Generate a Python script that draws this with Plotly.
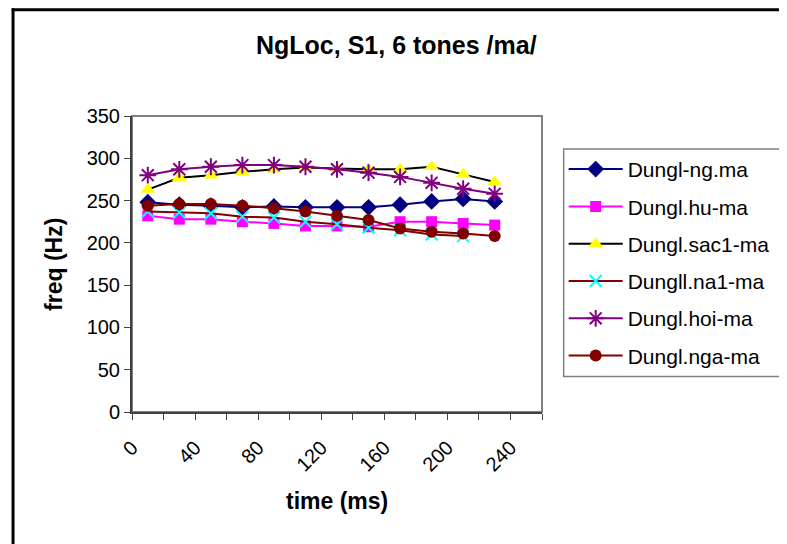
import plotly.graph_objects as go

time_ms = [10, 30, 50, 70, 90, 110, 130, 150, 170, 190, 210, 230]
ng_ma = [248, 245, 244, 242, 243, 242, 242, 242, 245, 249, 252, 249]
hu_ma = [232, 228, 228, 225, 223, 220, 220, 219, 225, 225, 223, 221]
sac1_ma = [263, 277, 280, 284, 287, 289, 288, 287, 287, 290, 281, 272]
na1_ma = [237, 236, 235, 231, 230, 225, 222, 218, 215, 210, 208]
hoi_ma = [280, 287, 290, 292, 292, 290, 287, 283, 278, 271, 264, 258]
nga_ma = [244, 246, 246, 244, 241, 237, 232, 227, 217, 213, 211, 208]

OFF = 8  # page body margin
W, H = 787 - OFF, 544 - OFF
# plot area in screen pixels: x 132..548, y 116..412.5
SX0, SX1, SY0, SY1 = 132, 548, 116, 412.5
L, T = SX0 - OFF, SY0 - OFF
R = W - (SX1 - OFF)
B = H - (SY1 - OFF)
PW, PH = W - L - R, H - T - B

def px(x):
    return (x - SX0) / PW

def py(y):
    return 1 - (y - SY0) / PH

FONT = "Arial, Liberation Sans, sans-serif"

series = [
    ("Dungl-ng.ma", ng_ma, "#000080", dict(symbol="diamond", size=13, color="#000080")),
    ("Dungl.hu-ma", hu_ma, "#FF00FF", dict(symbol="square", size=11, color="#FF00FF")),
    ("Dungl.sac1-ma", sac1_ma, "#000000", dict(symbol="triangle-up", size=13, color="#FFFF00")),
    ("Dungll.na1-ma", na1_ma, "#800000", dict(symbol="x-thin-open", size=12, color="#00FFFF",
                                               line=dict(color="#00FFFF", width=2))),
    ("Dungl.hoi-ma", hoi_ma, "#800080", dict(symbol="asterisk-open", size=14, color="#800080",
                                              line=dict(color="#800080", width=2))),
    ("Dungl.nga-ma", nga_ma, "#800000", dict(symbol="circle", size=12, color="#800000")),
]

fig = go.Figure()
for i, (name, vals, lc, mk) in enumerate(series):
    fig.add_trace(go.Scatter(
        x=time_ms[:len(vals)], y=vals, name=name, mode="lines+markers",
        line=dict(color=lc, width=2), marker=mk, legendgroup=f"g{i}",
    ))

fig.update_layout(
    width=W, height=H,
    margin=dict(l=L, r=R, t=T, b=B),
    paper_bgcolor="white", plot_bgcolor="white",
    font=dict(family=FONT, color="black", size=20),
    showlegend=True,
    legend=dict(x=px(570), y=py(149), xanchor="left", yanchor="top",
                borderwidth=0, bgcolor="rgba(0,0,0,0)",
                font=dict(family=FONT, size=21, color="black"),
                itemwidth=54, tracegroupgap=7, traceorder="grouped"),
    xaxis=dict(range=[0, 260], tickmode="linear", tick0=0, dtick=40,
               tickangle=-45, ticks="outside", ticklen=6, tickcolor="#404040",
               ticklabelstandoff=8,
               minor=dict(dtick=20, tick0=0, ticks="outside", ticklen=6, tickcolor="#404040"),
               showgrid=False, zeroline=False, showline=True, linecolor="#404040", linewidth=2,
               tickfont=dict(family=FONT, size=20, color="black")),
    yaxis=dict(range=[0, 350], tickmode="linear", tick0=0, dtick=50,
               ticks="outside", ticklen=6, tickcolor="#404040",
               showgrid=False, zeroline=False, showline=True, linecolor="#404040", linewidth=2,
               tickfont=dict(family=FONT, size=20, color="black")),
    shapes=[
        dict(type="rect", xref="paper", yref="paper", x0=0, x1=1, y0=0, y1=1,
             line=dict(color="#808080", width=2), layer="below"),
        dict(type="rect", xref="paper", yref="paper", x0=px(570), x1=px(810), y0=py(149), y1=py(377),
             line=dict(color="#808080", width=1.5), layer="below"),
        dict(type="line", xref="paper", yref="paper", x0=px(11.3), x1=px(11.3), y0=py(8), y1=py(560),
             line=dict(color="black", width=3)),
        dict(type="line", xref="paper", yref="paper", x0=px(10), x1=px(800), y0=py(9.5), y1=py(9.5),
             line=dict(color="black", width=3)),
    ],
    annotations=[
        dict(text="<b>NgLoc, S1, 6 tones /ma/</b>", xref="paper", yref="paper",
             x=px(400), y=py(45), xanchor="center", yanchor="middle", showarrow=False,
             font=dict(family=FONT, size=25, color="black")),
        dict(text="<b>freq (Hz)</b>", xref="paper", yref="paper",
             x=px(53), y=py(265), xanchor="center", yanchor="middle", showarrow=False,
             textangle=-90, font=dict(family=FONT, size=23, color="black")),
        dict(text="<b>time (ms)</b>", xref="paper", yref="paper",
             x=px(340), y=py(502), xanchor="center", yanchor="middle", showarrow=False,
             font=dict(family=FONT, size=23, color="black")),
    ],
)

fig.write_html("out.html")
